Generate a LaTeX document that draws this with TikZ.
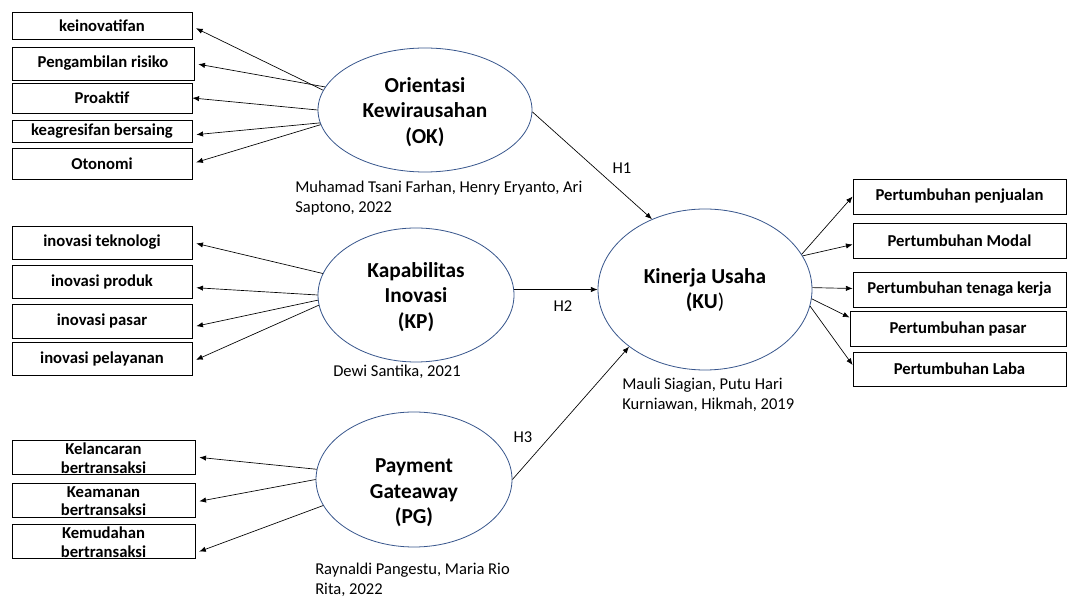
\documentclass[tikz,border=0pt]{standalone}
\usepackage{fontspec}
\setmainfont{Carlito}
\usetikzlibrary{arrows.meta,calc,shapes.geometric}
\definecolor{ellcol}{RGB}{55,85,140}
\begin{document}
\begin{tikzpicture}[x=0.75pt,y=-0.75pt,
  ell/.style={ellipse, draw=ellcol, line width=0.6pt, inner sep=0pt},
  box/.style={draw, line width=0.6pt, inner sep=0pt, align=center, font=\bfseries\fontsize{12.5}{13.5}\selectfont},
  ttl/.style={align=center, font=\bfseries\fontsize{16}{19}\selectfont},
  cite/.style={align=left, anchor=west, inner sep=0pt, font=\fontsize{12.4}{15}\selectfont},
  hlab/.style={font=\fontsize{12.4}{14}\selectfont},
  arr/.style={-{Latex[length=5pt,width=4pt]}, line width=0.5pt},
  arrl/.style={arr, shorten >=3pt}]
\useasboundingbox (0,0) rectangle (1072,598);
\fill[white] (0,0) rectangle (1072,598);
% ellipses
\node[ell, minimum width=160.5pt, minimum height=93pt] (ok) at (425,110) {};
\node[ell, minimum width=147pt, minimum height=100.5pt] (kp) at (416,295) {};
\node[ell, minimum width=160.5pt, minimum height=120.75pt] (ku) at (705,289.5) {};
\node[ell, minimum width=147pt, minimum height=101.25pt] (pg) at (414,479.5) {};
\node[ttl] (okt) at (425,112) {Orientasi\\Kewirausahan\\(OK)};
\node[ttl] (kpt) at (416,297) {Kapabilitas\\Inovasi\\(KP)};
\node[ttl] (kut) at (705,290) {Kinerja Usaha\\(KU\textmd{)}};
\node[ttl] (pgt) at (414,493) {Payment\\Gateaway\\(PG)};
% citations
\node[cite] (okc) at (295,198) {Muhamad Tsani Farhan, Henry Eryanto, Ari\\Saptono, 2022};
\node[cite] (kpc) at (333,372) {Dewi Santika, 2021};
\node[cite] (kuc) at (622,395) {Mauli Siagian, Putu Hari\\Kurniawan, Hikmah, 2019};
\node[cite] (pgc) at (315,580) {Raynaldi Pangestu, Maria Rio\\Rita, 2022};
% left boxes OK
\node[box, minimum width=135pt, minimum height=20.25pt] (b1) at (102,25.5) {keinovatifan};
\node[box, minimum width=136.5pt, minimum height=24.75pt] (b2) at (103,63.5) {Pengambilan risiko};
\node[box, minimum width=135pt, minimum height=22.5pt] (b3) at (102,98) {Proaktif};
\node[box, minimum width=135pt, minimum height=16.5pt] (b4) at (102,131) {keagresifan bersaing};
\node[box, minimum width=135pt, minimum height=23.25pt] (b5) at (102,163.5) {Otonomi};
% left boxes KP
\node[box, minimum width=135pt, minimum height=24.75pt] (c1) at (102,242.5) {inovasi teknologi};
\node[box, minimum width=135pt, minimum height=24.75pt] (c2) at (102,281.5) {inovasi produk};
\node[box, minimum width=135pt, minimum height=25.5pt] (c3) at (102,321) {inovasi pasar};
\node[box, minimum width=135pt, minimum height=24.75pt] (c4) at (102,358.5) {inovasi pelayanan};
% left boxes PG
\node[box, minimum width=137.25pt, minimum height=25.5pt] (d1) at (103.5,457) {};
\node[box, minimum width=137.25pt, minimum height=25.5pt] (d2) at (103.5,500) {};
\node[box, minimum width=137.25pt, minimum height=25.5pt] (d3) at (103.5,541) {};
\node[align=center, inner sep=0pt, font=\bfseries\fontsize{12.5}{14}\selectfont] (d1t) at (103.5,458) {Kelancaran\\bertransaksi};
\node[align=center, inner sep=0pt, font=\bfseries\fontsize{12.5}{14}\selectfont] (d2t) at (103.5,501) {Keamanan\\bertransaksi};
\node[align=center, inner sep=0pt, font=\bfseries\fontsize{12.5}{14}\selectfont] (d3t) at (103.5,542) {Kemudahan\\bertransaksi};
% right boxes KU
\node[box, minimum width=159.75pt, minimum height=26.25pt] (e1) at (959.5,196.5) {Pertumbuhan penjualan};
\node[box, minimum width=159.75pt, minimum height=26.25pt] (e2) at (959.5,240.5) {Pertumbuhan Modal};
\node[box, minimum width=159.75pt, minimum height=26.25pt] (e3) at (959.5,289.5) {Pertumbuhan tenaga kerja};
\node[box, minimum width=162pt, minimum height=26.25pt] (e4) at (958,328.5) {Pertumbuhan pasar};
\node[box, minimum width=159.75pt, minimum height=25.5pt] (e5) at (959.5,369) {Pertumbuhan Laba};
% H labels
\node[hlab] (h1) at (622,168) {H1};
\node[hlab] (h2) at (563,306) {H2};
\node[hlab] (h3) at (523,437) {H3};
% OK arrows
\draw[arrl] (ok.169) -- ($(b1.east)+(0,1)$);
\draw[arrl] (ok.167) -- (b2.east);
\draw[arr] (ok.180) -- (b3.east);
\draw[arrl] (ok.187) -- ($(b4.east)+(0,4)$);
\draw[arrl] (ok.188) -- (b5.east);
% KP arrows
\draw[arrl] (kp.167) -- (c1.east);
\draw[arrl] (kp.180) -- ($(c2.east)+(0,6)$);
\draw[arrl] (kp.183) -- ($(c3.east)+(0,6)$);
\draw[arrl] (kp.186) -- ($(c4.east)+(0,3)$);
% PG arrows
\draw[arrl] (pg.174) -- (d1.east);
\draw[arrl] (pg.180) -- ($(d2.east)+(0,2)$);
\draw[arrl] (pg.196) -- ($(d3.east)+(0,12)$);
% hypotheses
\draw[arr] (ok.-1) -- (ku.127);
\draw[arr] (kp.east |- ku.west) -- (ku.west);
\draw[arr] (pg.east) -- (ku.217);
% KU arrows
\draw[arr] (ku.20) -- (e1.west);
\draw[arr] (ku.19) -- ($(e2.west)+(0,4)$);
\draw[arr] (ku.1) -- ($(e3.west)+(0,-1)$);
\draw[arr] (ku.-5) -- ($(e4.west)+(0,-11)$);
\draw[arr] (ku.-9) -- ($(e5.west)+(0,-4)$);
\end{tikzpicture}
\end{document}
